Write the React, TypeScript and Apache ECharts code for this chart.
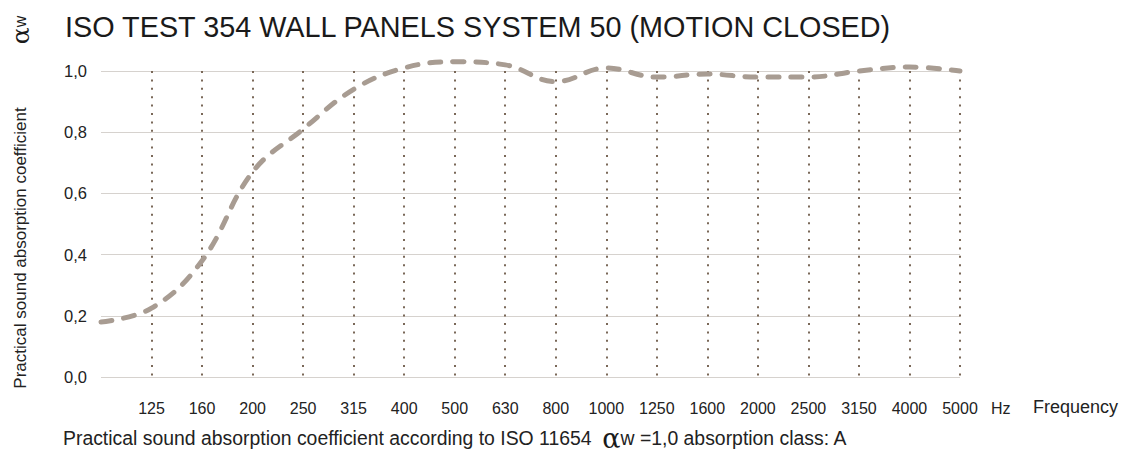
import React, { useEffect, useRef } from "react";
import * as echarts from "echarts";

const categories = ["100", "125", "160", "200", "250", "315", "400", "500", "630", "800", "1000", "1250", "1600", "2000", "2500", "3150", "4000", "5000"];
const values = [0.18, 0.225, 0.38, 0.67, 0.81, 0.94, 1.01, 1.03, 1.02, 0.965, 1.01, 0.98, 0.99, 0.98, 0.98, 1.0, 1.013, 1.0];
const yTicks = { min: 0, max: 1, interval: 0.2 };
const titleText = "ISO TEST 354 WALL PANELS SYSTEM 50 (MOTION CLOSED)";
const yName = "Practical sound absorption coefficient";
const xName = "Frequency";
const unit = "Hz";
const footA = "Practical sound absorption coefficient according to ISO 11654  ";
const footB = "w =1,0 absorption class: A";

const FONT = "'Liberation Sans', Arial, sans-serif";

export default function App() {
  const ref = useRef<HTMLDivElement>(null);
  useEffect(() => {
    if (!ref.current) return;
    const chart = echarts.init(ref.current, null, { renderer: "svg" });
    chart.setOption({
      animation: false,
      backgroundColor: "#ffffff",
      textStyle: { fontFamily: FONT },
      title: {
        text: titleText,
        left: 60,
        top: 7,
        textStyle: { fontFamily: FONT, fontSize: 28.8, fontWeight: "normal", color: "#1a1a1a" },
      },
      grid: { left: 101, right: 176, top: 71, bottom: 78, containLabel: false },
      xAxis: {
        type: "category",
        data: categories,
        boundaryGap: false,
        axisLine: { show: false },
        axisTick: { show: false },
        axisLabel: {
          margin: 23,
          fontSize: 16,
          color: "#222",
          fontFamily: FONT,
          interval: 0,
          formatter: (v: string, i: number) => (i === 0 ? "" : v),
        },
        splitLine: {
          show: true,
          interval: (i: number) => i !== 0,
          lineStyle: { color: "#7a6858", width: 2, type: [2, 6.4] },
        },
      },
      yAxis: {
        type: "value",
        min: yTicks.min,
        max: yTicks.max,
        interval: yTicks.interval,
        axisLine: { show: false },
        axisTick: { show: false },
        axisLabel: {
          margin: 14,
          fontSize: 16.5,
          color: "#222",
          fontFamily: FONT,
          formatter: (v: number) => v.toFixed(1).replace(".", ","),
        },
        splitLine: { show: true, lineStyle: { color: "#d6d2ce", width: 1 } },
      },
      series: [
        {
          type: "line",
          data: values,
          smooth: 0.4,
          clip: false,
          symbol: "none",
          lineStyle: { color: "#a89c92", width: 5, type: [11, 12], cap: "round" },
          z: 5,
        },
      ],
      graphic: [
        {
          type: "text",
          x: 20,
          y: 248,
          rotation: Math.PI / 2,
          style: {
            text: yName,
            fontSize: 17,
            fontFamily: FONT,
            fill: "#222",
            align: "center",
            verticalAlign: "middle",
          },
        },
        {
          type: "text",
          x: 20,
          y: 30,
          rotation: Math.PI / 2,
          style: {
            text: "{a|α}{w|w}",
            align: "center",
            verticalAlign: "middle",
            rich: {
              a: { fontSize: 25, fontFamily: "'DejaVu Serif', serif", fill: "#1a1a1a" },
              w: { fontSize: 16, fontFamily: FONT, fill: "#1a1a1a" },
            },
          },
        },
        {
          type: "text",
          x: 991,
          y: 408,
          style: { text: unit, fontSize: 16, fontFamily: FONT, fill: "#222", verticalAlign: "middle" },
        },
        {
          type: "text",
          x: 1033,
          y: 407,
          style: { text: xName, fontSize: 18, fontFamily: FONT, fill: "#222", verticalAlign: "middle" },
        },
        {
          type: "text",
          x: 63,
          y: 438,
          style: {
            text: "{a|" + footA + "}{b|α}{a|" + footB + "}",
            verticalAlign: "middle",
            rich: {
              a: { fontSize: 19.4, fontFamily: FONT, fill: "#222" },
              b: { fontSize: 27, fontFamily: "'DejaVu Serif', serif", fill: "#1a1a1a" },
            },
          },
        },
      ],
    });
    return () => chart.dispose();
  }, []);
  return (
    <div
      ref={ref}
      style={{ position: "fixed", left: 0, top: 0, width: 1136, height: 455 }}
    />
  );
}
